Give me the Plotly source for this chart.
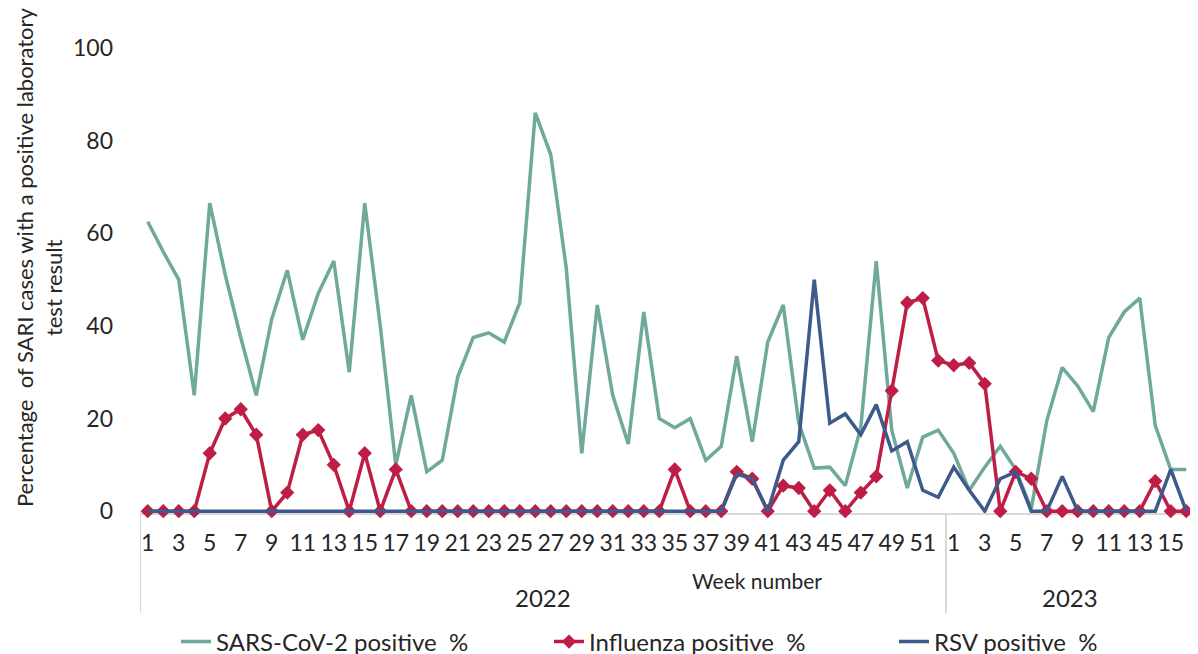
import plotly.graph_objects as go

# ---------------- data ----------------
weeks_2022 = list(range(1, 53))
weeks_2023 = list(range(1, 17))
year_labels = ["2022", "2023"]

sars_2022 = [62.5, 56, 50, 25, 66.5, 51, 37.5, 25, 41.5, 52,
             37, 47, 54, 30, 66.5, 40, 10, 25, 8.5, 11,
             29, 37.5, 38.5, 36.5, 45, 86, 77, 52.5, 12.5, 44.5,
             25, 14.5, 43, 20, 18, 20, 11, 14, 33.5, 15,
             36.5, 44.5, 19, 9.3, 9.5, 5.5, 18, 54, 17.5, 5,
             16, 17.5]
sars_2023 = [12.5, 4.5, 9.5, 14, 9, 0.5, 19.5, 31, 27, 21.5,
             37.5, 43, 46, 18.5, 9, 9]

flu_2022 = [0, 0, 0, 0, 12.5, 20, 22, 16.5, 0, 4,
            16.5, 17.5, 10, 0, 12.5, 0, 9, 0, 0, 0,
            0, 0, 0, 0, 0, 0, 0, 0, 0, 0,
            0, 0, 0, 0, 9, 0, 0, 0, 8.5, 7,
            0, 5.5, 5, 0, 4.5, 0, 4, 7.5, 26, 45,
            46, 32.5]
flu_2023 = [31.5, 32, 27.5, 0, 8.5, 7, 0, 0, 0, 0,
            0, 0, 0, 6.5, 0, 0]

rsv_2022 = [0] * 38 + [8, 7, 0, 11, 15, 50, 19, 21, 16.5, 23,
                       13, 15, 4.5, 3]
rsv_2023 = [9.5, 4.5, 0, 7, 8.5, 0, 0, 7.5, 0, 0,
            0, 0, 0, 0, 9, 0]

y_ticks = [0, 20, 40, 60, 80, 100]

# ---------------- build ----------------
weeks = weeks_2022 + weeks_2023
x_idx = list(range(len(weeks)))
sars = sars_2022 + sars_2023
flu = flu_2022 + flu_2023
rsv = rsv_2022 + rsv_2023

tick_vals = [i for i, w in zip(x_idx, weeks) if w % 2 == 1]
tick_text = [str(weeks[i]) for i in tick_vals]

FONT = "Lato, 'Liberation Sans', Arial, sans-serif"
TXT = "#262626"
GREEN = "#6ea99c"
RED = "#be1e46"
BLUE = "#3d5a8a"
GRID = "#d9d9d9"
LW = 3.5

fig = go.Figure()
fig.add_trace(go.Scatter(x=x_idx, y=sars, mode="lines", name="SARS-CoV-2 positive  %",
                         line=dict(color=GREEN, width=LW), cliponaxis=False, legend="legend"))
fig.add_trace(go.Scatter(x=x_idx, y=flu, mode="lines+markers", name="Influenza positive  %",
                         line=dict(color=RED, width=LW),
                         marker=dict(symbol="diamond", size=11, color=RED), cliponaxis=False,
                         legend="legend2"))
fig.add_trace(go.Scatter(x=x_idx, y=rsv, mode="lines", name="RSV positive  %",
                         line=dict(color=BLUE, width=LW), cliponaxis=False, legend="legend3"))

n22 = len(weeks_2022)
n = len(weeks)

# the page body adds an 8px offset; layout is expressed in screen pixels minus that offset
OFF = 8
W, H = 1198, 654
Y_MIN, Y_MAX = -0.4, 100
PX_TOP, PX_ZERO = 48, 511                  # screen pixels of y=100 and y=0
K = (PX_ZERO - PX_TOP) / Y_MAX             # pixels per unit
PX_BOTTOM = PX_ZERO - Y_MIN * K            # bottom of plot area on screen
L, T = 140 - OFF, PX_TOP - OFF
R = W - (1194 - OFF)
B = H - (PX_BOTTOM - OFF)
pw, ph = W - L - R, H - T - B

def px_x(p):
    return (p - OFF - L) / pw

def px_y(p):
    return (PX_BOTTOM - p) / ph

# dividers of the grouped category axis
for xv in [-0.5, n22 - 0.5, n - 0.5]:
    fig.add_shape(type="line", xref="x", yref="paper", x0=xv, x1=xv, y0=0, y1=px_y(613),
                  line=dict(color=GRID, width=2), layer="below")

# year labels
fig.add_annotation(x=(-0.5 + n22 - 0.5) / 2, y=px_y(597), xref="x", yref="paper",
                   text=year_labels[0], showarrow=False, font=dict(size=24, color=TXT, family=FONT),
                   xanchor="center", yanchor="middle")
fig.add_annotation(x=(n22 - 0.5 + n - 0.5) / 2, y=px_y(597), xref="x", yref="paper",
                   text=year_labels[1], showarrow=False, font=dict(size=24, color=TXT, family=FONT),
                   xanchor="center", yanchor="middle")
# axis titles
fig.add_annotation(x=px_x(757), y=px_y(580), xref="paper", yref="paper",
                   text="Week number", showarrow=False, font=dict(size=21, color=TXT, family=FONT),
                   xanchor="center", yanchor="middle")
fig.add_annotation(x=px_x(24), y=px_y(257), xref="paper", yref="paper", textangle=-90,
                   text="Percentage  of SARI cases with a positive laboratory", showarrow=False,
                   font=dict(size=22, color=TXT, family=FONT), xanchor="center", yanchor="middle")
fig.add_annotation(x=px_x(53), y=px_y(288), xref="paper", yref="paper", textangle=-90,
                   text="test result", showarrow=False,
                   font=dict(size=22, color=TXT, family=FONT), xanchor="center", yanchor="middle")

TEXT_OFFSET = 41  # distance from legend box left to its text


def legend_at(text_left_px):
    return dict(orientation="h", xref="container", yref="container",
                x=(text_left_px - TEXT_OFFSET - OFF) / W, y=(H - (642 - OFF)) / H,
                xanchor="left", yanchor="middle",
                font=dict(size=24, color=TXT, family=FONT),
                bgcolor="rgba(0,0,0,0)", itemclick=False, itemdoubleclick=False)


fig.update_layout(
    width=W, height=H,
    margin=dict(l=L, r=R, t=T, b=B, autoexpand=False),
    paper_bgcolor="white", plot_bgcolor="white",
    font=dict(family=FONT, size=23, color=TXT),
    showlegend=True,
    legend=legend_at(217),
    legend2=legend_at(590),
    legend3=legend_at(935),
    xaxis=dict(range=[-0.5, n - 0.5], tickmode="array", tickvals=tick_vals, ticktext=tick_text,
               showgrid=False, zeroline=False, showline=True, linecolor=GRID, linewidth=2,
               ticks="", tickfont=dict(size=23, color=TXT, family=FONT), tickangle=0,
               ticklabelstandoff=8, automargin=False, layer="below traces"),
    yaxis=dict(range=[Y_MIN, Y_MAX], tickmode="array", tickvals=y_ticks, showgrid=False,
               zeroline=False, showline=False, ticks="",
               tickfont=dict(size=23, color=TXT, family=FONT), ticklabelstandoff=26,
               automargin=False, layer="below traces"),
)

fig.write_html("out.html")
